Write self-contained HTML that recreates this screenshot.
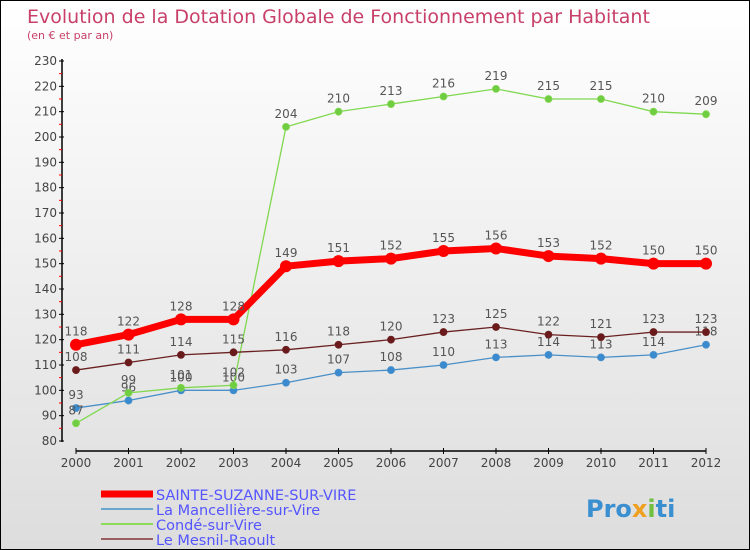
<!DOCTYPE html>
<html><head><meta charset="utf-8"><style>
body{margin:0}
#c{width:750px;height:550px;position:relative;box-sizing:border-box;border:1px solid #000;background:linear-gradient(#fff,#ddd);font-family:"DejaVu Sans","Liberation Sans",sans-serif;overflow:hidden}
</style></head><body>
<div id="c">
<svg id="s" width="750" height="550" style="position:absolute;left:0;top:0">
<text x="26" y="22" font-size="19" fill="#c8406a">Evolution de la Dotation Globale de Fonctionnement par Habitant</text>
<text x="26" y="38" font-size="11" fill="#c8406a">(en € et par an)</text>
<g id="axes"></g><g id="series"></g>
<g>
<line x1="100" y1="493" x2="152" y2="493" stroke="#f00" stroke-width="7"/>
<text x="155" y="499" font-size="14.5" fill="#55f">SAINTE-SUZANNE-SUR-VIRE</text>
<line x1="100" y1="508" x2="152" y2="508" stroke="#6aa6d0" stroke-width="2"/>
<text x="155" y="514" font-size="14.5" fill="#55f">La Mancellière-sur-Vire</text>
<line x1="100" y1="523" x2="152" y2="523" stroke="#8cdc5a" stroke-width="2"/>
<text x="155" y="529" font-size="14.5" fill="#55f">Condé-sur-Vire</text>
<line x1="100" y1="538" x2="152" y2="538" stroke="#9a6060" stroke-width="2"/>
<text x="155" y="544" font-size="14.5" fill="#55f">Le Mesnil-Raoult</text>
</g>
<text x="585" y="516" font-size="24" font-weight="bold" fill="#3a8fd0">Pro<tspan fill="#f0a020">x</tspan><tspan fill="#70c040">i</tspan>ti</text>
</svg>
</div>
<script>
const years=[2000,2001,2002,2003,2004,2005,2006,2007,2008,2009,2010,2011,2012];
const yTicks=[80,90,100,110,120,130,140,150,160,170,180,190,200,210,220,230];
const sainte=[118,122,128,128,149,151,152,155,156,153,152,150,150];
const mancel=[93,96,100,100,103,107,108,110,113,114,113,114,118];
const conde=[87,99,101,102,204,210,213,216,219,215,215,210,209];
const mesnil=[108,111,114,115,116,118,120,123,125,122,121,123,123];
const NS="http://www.w3.org/2000/svg";
const X=i=>75+i*52.5, Y=v=>440-(v-80)*380/150;
function mk(t,a,p){const e=document.createElementNS(NS,t);for(const k in a)e.setAttribute(k,a[k]);p.appendChild(e);return e;}
const ax=document.getElementById('axes');
let e=mk('line',{x1:61,y1:58,x2:61,y2:441,stroke:'#000','stroke-width':1.5},ax);

e=mk('line',{x1:75,y1:450,x2:705,y2:450,stroke:'#000','stroke-width':1.5},ax);

yTicks.forEach(v=>{mk('line',{x1:58,x2:63,y1:Y(v),y2:Y(v),stroke:'#000'},ax);
 if(v<230)mk('line',{x1:58,x2:61,y1:Y(v+5),y2:Y(v+5),stroke:'#f00'},ax);
 const t=mk('text',{x:56,y:Y(v)+4,'text-anchor':'end','font-size':12,fill:'#444'},ax);t.textContent=v;
 });
years.forEach((y,i)=>{mk('line',{x1:X(i),x2:X(i),y1:447,y2:453,stroke:'#000'},ax);
 const t=mk('text',{x:X(i),y:466,'text-anchor':'middle','font-size':12,fill:'#444'},ax);t.textContent=y;
 });
const sg=document.getElementById('series');
function draw(d,col,fill,w,r,name){const g=mk('g',{},sg);
 
 mk('polyline',{points:d.map((v,i)=>X(i)+','+Y(v)).join(' '),fill:'none',stroke:col,'stroke-width':w},g);
 d.forEach((v,i)=>{const c=mk('circle',{cx:X(i),cy:Y(v),r:r,fill:fill,stroke:col,'stroke-width':w>3?0:0.8},g);
  
  const t=mk('text',{x:X(i),y:Y(v)-9,'text-anchor':'middle','font-size':12,fill:'#555'},g);t.textContent=v;
  });}
draw(mancel,'#4a90c8','#3a8ad0',1.3,3.5,'series-la-mancelliere');
draw(conde,'#80d850','#70cc40',1.3,3.5,'series-conde');
draw(mesnil,'#6a2020','#6a1a1a',1.3,3.5,'series-le-mesnil');
draw(sainte,'#f00','#f00',7,6,'series-sainte-suzanne');
</script>
</body></html>
